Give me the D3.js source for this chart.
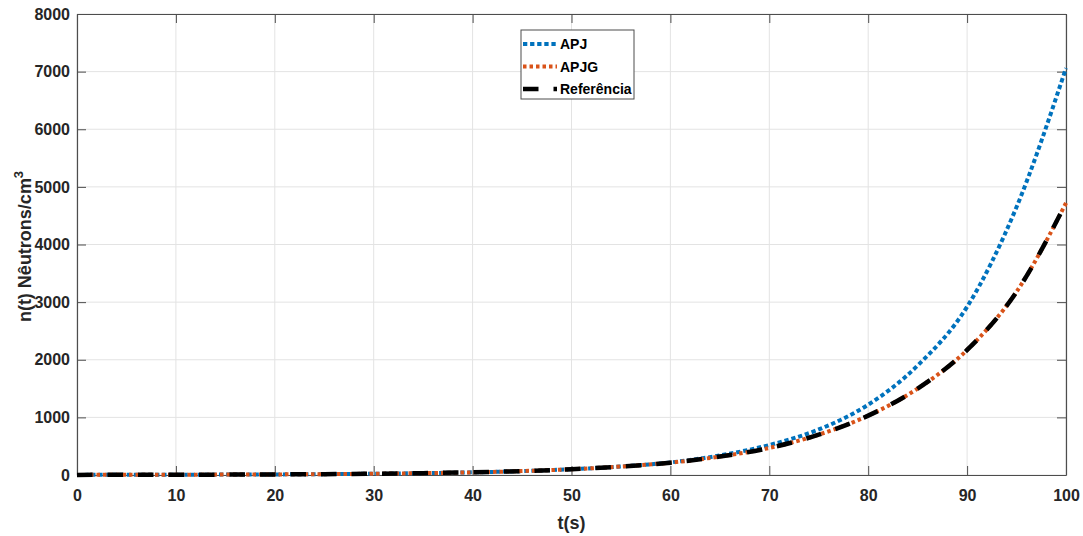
<!DOCTYPE html>
<html>
<head>
<meta charset="utf-8">
<script src="https://cdn.jsdelivr.net/npm/d3@7"></script>
<style>
  html, body { margin: 0; padding: 0; background: #fff; }
  svg { display: block; font-family: "Liberation Sans", Arial, sans-serif; }
</style>
</head>
<body>
<svg id="chart" width="1083" height="536"></svg>
<script>
// ---- data ----
const times = [0, 5, 10, 15, 20, 25, 30, 35, 40, 45, 50, 55, 60, 65, 70, 75, 80, 85, 90, 95, 100];
const apj   = [2, 3, 5, 7, 10, 15, 22, 32, 46, 68, 100, 148, 218, 340, 520, 790, 1220, 1900, 2920, 4650, 7060];
const apjg  = [2, 3, 5, 7, 10, 15, 22, 32, 46, 68, 100, 147, 214, 320, 470, 700, 1030, 1500, 2170, 3180, 4720];
const refer = [2, 3, 5, 7, 10, 15, 22, 32, 46, 68, 100, 147, 214, 320, 470, 700, 1030, 1500, 2170, 3180, 4720];
const xTicks = [0, 10, 20, 30, 40, 50, 60, 70, 80, 90, 100];
const yTicks = [0, 1000, 2000, 3000, 4000, 5000, 6000, 7000, 8000];
const seriesNames = ["APJ", "APJG", "Referência"];

// ---- layout ----
const L = 77, R = 1066, T = 14, B = 475;
const svg = d3.select("#chart");
const x = d3.scaleLinear().domain([0, 100]).range([L, R]);
const y = d3.scaleLinear().domain([0, 8000]).range([B, T]);

// grid
const g = svg.append("g");
g.selectAll("line.gx").data(xTicks).enter().append("line")
  .attr("x1", d => x(d)).attr("x2", d => x(d)).attr("y1", T).attr("y2", B)
  .attr("stroke", "#e3e3e3").attr("stroke-width", 1);
g.selectAll("line.gy").data(yTicks).enter().append("line")
  .attr("x1", L).attr("x2", R).attr("y1", d => y(d)).attr("y2", d => y(d))
  .attr("stroke", "#e3e3e3").attr("stroke-width", 1);

// axes (ticks inward)
const axisColor = "#4d4d4d";
const fontTick = "bold 16px 'Liberation Sans', Arial, sans-serif";
const xb = svg.append("g").attr("transform", `translate(0,${B})`)
  .call(d3.axisBottom(x).tickValues(xTicks).tickSizeInner(-9).tickSizeOuter(0).tickPadding(12).tickFormat(d3.format("d")));
const xt = svg.append("g").attr("transform", `translate(0,${T})`)
  .call(d3.axisTop(x).tickValues(xTicks).tickSizeInner(-9).tickSizeOuter(0).tickFormat(""));
const yl = svg.append("g").attr("transform", `translate(${L},0)`)
  .call(d3.axisLeft(y).tickValues(yTicks).tickSizeInner(-9).tickSizeOuter(0).tickPadding(7).tickFormat(d3.format("d")));
const yr = svg.append("g").attr("transform", `translate(${R},0)`)
  .call(d3.axisRight(y).tickValues(yTicks).tickSizeInner(-9).tickSizeOuter(0).tickFormat(""));
[xb, xt, yl, yr].forEach(a => {
  a.select(".domain").attr("stroke", axisColor).attr("stroke-width", 1.2);
  a.selectAll(".tick line").attr("stroke", axisColor).attr("stroke-width", 1);
  a.selectAll(".tick text").attr("fill", "#262626").style("font", fontTick);
});
xb.selectAll(".tick text").attr("dy", "0.85em");

// lines
const line = (vals) => d3.line().x((d, i) => x(times[i])).y(d => y(d)).curve(d3.curveMonotoneX)(vals);
svg.append("path").attr("d", line(apj)).attr("fill", "none")
  .attr("stroke", "#0072BD").attr("stroke-width", 4).attr("stroke-dasharray", "4.3,2.8");
svg.append("path").attr("d", line(apjg)).attr("fill", "none")
  .attr("stroke", "#D95319").attr("stroke-width", 4).attr("stroke-dasharray", "3.5,3");
svg.append("path").attr("d", line(refer)).attr("fill", "none")
  .attr("stroke", "#000").attr("stroke-width", 4.5).attr("stroke-dasharray", "15.5,15");

// axis labels
svg.append("text").attr("x", (L + R) / 2).attr("y", 529).attr("text-anchor", "middle")
  .attr("fill", "#262626").style("font", "bold 18px 'Liberation Sans', Arial, sans-serif").text("t(s)");
const ylab = svg.append("text").attr("transform", `translate(31,${(T + B) / 2 + 2}) rotate(-90)`)
  .attr("text-anchor", "middle").attr("fill", "#262626")
  .style("font", "bold 18px 'Liberation Sans', Arial, sans-serif");
ylab.append("tspan").text("n(t) Nêutrons/cm");
ylab.append("tspan").attr("dy", -8).style("font-size", "13px").text("3");

// legend
const lg = svg.append("g");
lg.append("rect").attr("x", 521).attr("y", 30).attr("width", 113).attr("height", 69)
  .attr("fill", "#fff").attr("stroke", "#4d4d4d").attr("stroke-width", 1);
const legY = [44, 66.5, 89];
const legStyles = [
  { c: "#0072BD", w: 4, da: "4.3,2.8" },
  { c: "#D95319", w: 4, da: "3.5,3" },
  { c: "#000", w: 4.5, da: "15.5,15" }
];
seriesNames.forEach((n, i) => {
  lg.append("line").attr("x1", 523).attr("x2", 557).attr("y1", legY[i]).attr("y2", legY[i])
    .attr("stroke", legStyles[i].c).attr("stroke-width", legStyles[i].w).attr("stroke-dasharray", legStyles[i].da);
  lg.append("text").attr("x", 560).attr("y", legY[i] + 5).attr("fill", "#000")
    .style("font", "bold 14px 'Liberation Sans', Arial, sans-serif").text(n);
});
</script>
</body>
</html>
